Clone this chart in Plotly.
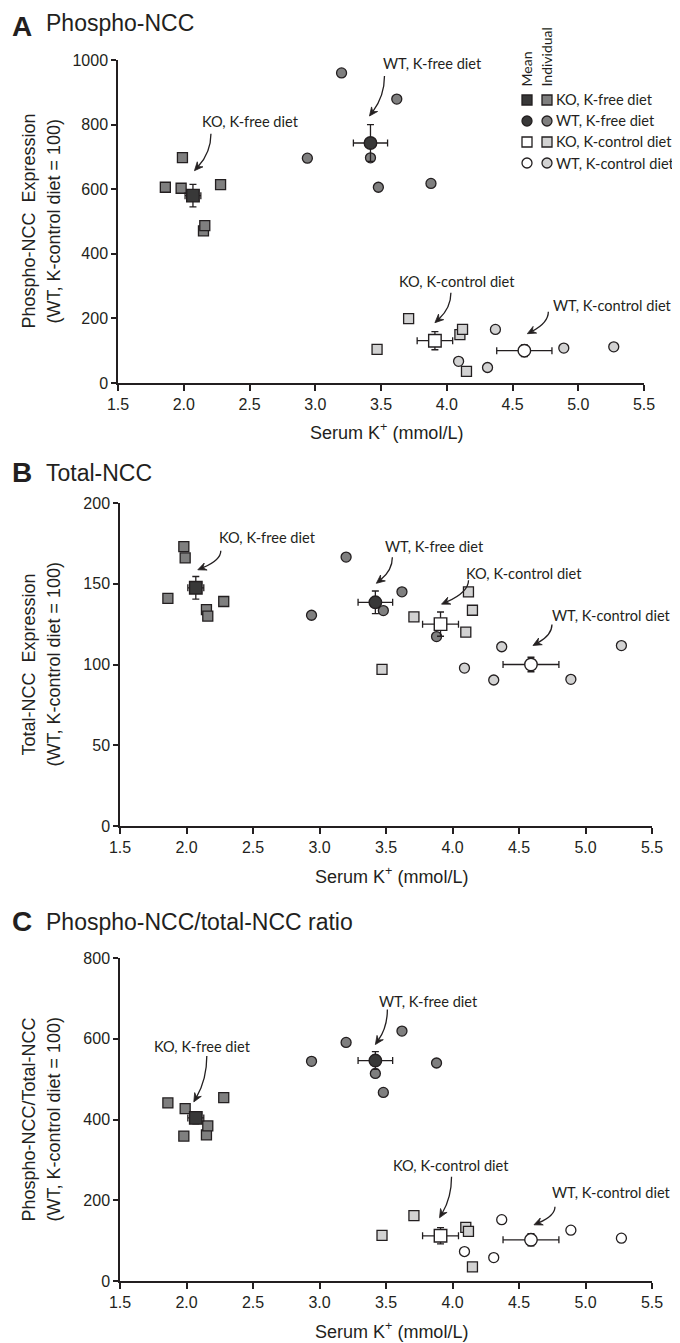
import math
import plotly.graph_objects as go

PAGE_W, PAGE_H = 680, 1343
OFF = 8  # browser body margin: the figure is drawn 8 px in from the page corner
W, H = PAGE_W - OFF, PAGE_H - OFF

# ---------------- data ----------------
group_labels = ["KO, K-free diet", "WT, K-free diet", "KO, K-control diet", "WT, K-control diet"]

serum_k_ko_free = [1.86, 1.98, 1.99, 2.15, 2.16, 2.28]
serum_k_wt_free = [2.94, 3.20, 3.42, 3.48, 3.62, 3.88]
serum_k_ko_ctrl = [3.47, 3.71, 4.10, 4.12, 4.15]
serum_k_wt_ctrl = [4.09, 4.31, 4.37, 4.89, 5.27]

phospho_ko_free = [606, 603, 698, 471, 487, 614]
phospho_wt_free = [696, 960, 697, 606, 879, 618]
phospho_ko_ctrl = [104, 199, 150, 166, 36]
phospho_wt_ctrl = [67, 48, 166, 108, 112]

total_ko_free = [141, 173, 166, 134, 130, 139]
total_wt_free = [130.5, 166.5, 138.4, 133.4, 145, 117.3]
total_ko_ctrl = [97, 129.5, 120, 145, 133.6]
total_wt_ctrl = [97.8, 90.4, 111, 90.8, 111.7]

ratio_ko_free = [441, 359, 427, 362, 384, 454]
ratio_wt_free = [544, 591, 514, 467, 619, 540]
ratio_ko_ctrl = [113, 162, 133, 123, 35]
ratio_wt_ctrl = [73, 58, 152, 126, 106]

mean_serum_k = [2.07, 3.42, 3.91, 4.59]
sem_serum_k = [0.06, 0.13, 0.135, 0.21]
mean_phospho = [580, 743, 131, 100]
sem_phospho = [35, 57, 28, 18]
mean_total = [147.5, 138.5, 125, 100]
sem_total = [7, 7, 7.5, 4.5]
mean_ratio = [404, 546, 112, 102]
sem_ratio = [15, 22, 20, 15]

x_ticks = [1.5, 2.0, 2.5, 3.0, 3.5, 4.0, 4.5, 5.0, 5.5]

# ---------------- styling ----------------
INK = "#231f20"
AXFONT = "Liberation Sans, Arial, sans-serif"
LBLFONT = "Lato, sans-serif"
LBLSIZE = 14.6
ind_fill = ["#7f7f7f", "#7f7f7f", "#d2d2d2", "#d2d2d2"]
mean_fill = ["#383838", "#383838", "#ffffff", "#ffffff"]
symbols = ["square", "circle", "square", "circle"]

panels = [
    dict(key="A", title="Phospho-NCC", left=118, right=644, top=60, bottom=383, title_y=21,
         letter_y=26, ymax=1000, dtick=200,
         ytitle=["Phospho-NCC  Expression", "(WT, K-control diet = 100)"],
         xs=[serum_k_ko_free, serum_k_wt_free, serum_k_ko_ctrl, serum_k_wt_ctrl],
         ys=[phospho_ko_free, phospho_wt_free, phospho_ko_ctrl, phospho_wt_ctrl],
         my=mean_phospho, ey=sem_phospho,
         ctrl_ind_fill="#d2d2d2",
         arrows=[((58, -74), (18, -62), (1.5, -25)),
                 ((62, -80), (14, -67), (-1, -27)),
                 ((22, -59), (16, -48), (0, -18)),
                 ((88, -45), (24, -39), (3, -17))]),
    dict(key="B", title="Total-NCC", left=120, right=652, top=503, bottom=826, title_y=471,
         letter_y=472, ymax=200, dtick=50,
         ytitle=["Total-NCC  Expression", "(WT, K-control diet = 100)"],
         xs=[serum_k_ko_free, serum_k_wt_free, serum_k_ko_ctrl, serum_k_wt_ctrl],
         ys=[total_ko_free, total_wt_free, total_ko_ctrl, total_wt_ctrl],
         my=mean_total, ey=sem_total,
         ctrl_ind_fill="#d2d2d2",
         arrows=[((72, -50), (25, -37), (2, -18)),
                 ((59, -56), (17, -45), (1, -19)),
                 ((83, -51), (28, -44), (1, -20)),
                 ((81, -49), (21, -40), (2, -19))]),
    dict(key="C", title="Phospho-NCC/total-NCC ratio", left=120, right=652, top=958, bottom=1281,
         title_y=920, letter_y=921, ymax=800, dtick=200,
         ytitle=["Phospho-NCC/Total-NCC", "(WT, K-control diet = 100)"],
         xs=[serum_k_ko_free, serum_k_wt_free, serum_k_ko_ctrl, serum_k_wt_ctrl],
         ys=[ratio_ko_free, ratio_wt_free, ratio_ko_ctrl, ratio_wt_ctrl],
         my=mean_ratio, ey=sem_ratio,
         ctrl_ind_fill="#ffffff",
         arrows=[((7, -71), (11, -62), (-2, -16)),
                 ((53, -59), (12, -51), (0, -16)),
                 ((10, -70), (11, -59), (-1, -18)),
                 ((81, -47), (24, -33), (3, -15))]),
]


def px(x):
    return (x - OFF) / W


def py(y):
    return 1 - (y - OFF) / H


fig = go.Figure()
annotations = []
shapes = []


def arrow(xref, yref, ax, ay, tail, tip):
    tx, ty = tail
    qx, qy = tip
    cx, cy = tx, ty + 0.5 * (qy - ty)
    dx, dy = qx - cx, qy - cy
    L = math.hypot(dx, dy) or 1
    ux, uy = dx / L, dy / L
    nx, ny = -uy, ux
    hl, hw = 8.5, 3.8
    bx, by = qx - ux * hl, qy - uy * hl
    notch = (qx - ux * hl * 0.65, qy - uy * hl * 0.65)
    f = lambda a, b: f"{a:.2f},{-b:.2f}"
    shaft = f"M{f(tx, ty)} Q{f(cx, cy)} {f(*notch)}"
    head = (f"M{f(qx, qy)} L{f(bx + nx * hw, by + ny * hw)} L{f(*notch)} "
            f"L{f(bx - nx * hw, by - ny * hw)} Z")
    common = dict(type="path", xref=xref, yref=yref, xsizemode="pixel", ysizemode="pixel",
                  xanchor=ax, yanchor=ay, layer="above")
    shapes.append(dict(path=shaft, line=dict(color=INK, width=1.3), **common))
    shapes.append(dict(path=head, line=dict(color=INK, width=0.8), fillcolor=INK, **common))


for i, p in enumerate(panels):
    n = "" if i == 0 else str(i + 1)
    xa, ya = "x" + n, "y" + n
    axis_common = dict(showline=True, linecolor=INK, linewidth=1.5, ticks="outside",
                       tickcolor=INK, tickwidth=1.5, showgrid=False, zeroline=False,
                       automargin=False,
                       tickfont=dict(family=AXFONT, size=16, color=INK), fixedrange=True)
    fig.update_layout(**{
        "xaxis" + n: dict(domain=[px(p["left"]), px(p["right"])], range=[1.5, 5.5], anchor=ya,
                          tickvals=x_ticks, ticktext=[f"{v:.1f}" for v in x_ticks],
                          ticklen=6, **axis_common),
        "yaxis" + n: dict(domain=[py(p["bottom"]), py(p["top"])], range=[0, p["ymax"]], anchor=xa,
                          dtick=p["dtick"], tick0=0, ticklen=5, **axis_common),
    })
    # individuals
    for g in range(4):
        fill = ind_fill[g]
        if g == 3:
            fill = p["ctrl_ind_fill"]
        fig.add_trace(go.Scatter(
            x=p["xs"][g], y=p["ys"][g], mode="markers", xaxis=xa, yaxis=ya,
            cliponaxis=False, showlegend=False, hoverinfo="skip",
            marker=dict(symbol=symbols[g], size=10, color=fill,
                        line=dict(color=INK, width=1.3))))
    # means with SEM
    for g in range(4):
        fig.add_trace(go.Scatter(
            x=[mean_serum_k[g]], y=[p["my"][g]], mode="markers", xaxis=xa, yaxis=ya,
            cliponaxis=False, showlegend=False, hoverinfo="skip",
            error_x=dict(type="data", array=[sem_serum_k[g]], color=INK, thickness=1.3, width=3.5),
            error_y=dict(type="data", array=[p["ey"][g]], color=INK, thickness=1.3, width=3.5),
            marker=dict(symbol=symbols[g], size=12.5, color=mean_fill[g],
                        line=dict(color=INK, width=1.4))))
        lab, tail, tip = p["arrows"][g]
        annotations.append(dict(x=mean_serum_k[g], y=p["my"][g], xref=xa, yref=ya,
                                text=group_labels[g], showarrow=False,
                                xshift=lab[0], yshift=-lab[1], xanchor="center", yanchor="middle",
                                font=dict(family=LBLFONT, size=LBLSIZE, color=INK)))
        arrow(xa, ya, mean_serum_k[g], p["my"][g], tail, tip)

    # panel title
    annotations.append(dict(x=px(10), y=py(p["letter_y"]), xref="paper", yref="paper",
                            text=f"<b>{p['key']}</b>", showarrow=False, xanchor="left", yanchor="middle",
                            font=dict(family=AXFONT, size=28, color=INK)))
    annotations.append(dict(x=px(44), y=py(p["title_y"] + 2), xref="paper", yref="paper",
                            text=p["title"], showarrow=False, xanchor="left", yanchor="middle",
                            font=dict(family=AXFONT, size=23, color=INK)))
    # y title (two lines)
    ymid = (p["top"] + p["bottom"]) / 2
    for k, (line, xc) in enumerate(zip(p["ytitle"], [28, 53])):
        annotations.append(dict(x=px(xc), y=py(ymid), xref="paper", yref="paper", text=line,
                                textangle=-90, showarrow=False, xanchor="center", yanchor="middle",
                                font=dict(family=AXFONT, size=18, color=INK)))
    # x title
    annotations.append(dict(x=px((p["left"] + p["right"]) / 2 + 5), y=py(p["bottom"] + 49),
                            xref="paper", yref="paper",
                            text="Serum K<sup>+</sup> (mmol/L)", showarrow=False,
                            xanchor="center", yanchor="middle",
                            font=dict(family=AXFONT, size=18, color=INK)))

# ---------------- custom legend (panel A) ----------------
leg_rows = [100, 121, 142, 163]
leg_mean_x, leg_ind_x, leg_text_x = 527, 547, 554
for g in range(4):
    for cx, fill in [(leg_mean_x, mean_fill[g]), (leg_ind_x, ind_fill[g])]:
        shapes.append(dict(type="rect" if symbols[g] == "square" else "circle",
                           xref="paper", yref="paper", xsizemode="pixel", ysizemode="pixel",
                           xanchor=px(cx), yanchor=py(leg_rows[g]),
                           x0=-5, x1=5, y0=-5, y1=5,
                           fillcolor=fill, line=dict(color=INK, width=1.3), layer="above"))
    annotations.append(dict(x=px(leg_text_x), y=py(leg_rows[g]), xref="paper", yref="paper",
                            text=group_labels[g], showarrow=False, xanchor="left", yanchor="middle",
                            font=dict(family=LBLFONT, size=LBLSIZE, color=INK)))
for txt, xc in [("Mean", leg_mean_x - 1), ("Individual", leg_ind_x - 1)]:
    annotations.append(dict(x=px(xc), y=py(89), xref="paper", yref="paper", text=txt,
                            textangle=-90, showarrow=False, xanchor="center", yanchor="bottom",
                            font=dict(family=LBLFONT, size=14, color=INK)))

fig.update_layout(
    width=W, height=H, margin=dict(l=0, r=0, t=0, b=0, pad=0, autoexpand=False),
    paper_bgcolor="white", plot_bgcolor="rgba(0,0,0,0)",
    showlegend=False, annotations=annotations, shapes=shapes,
)

fig.write_html("out.html")
